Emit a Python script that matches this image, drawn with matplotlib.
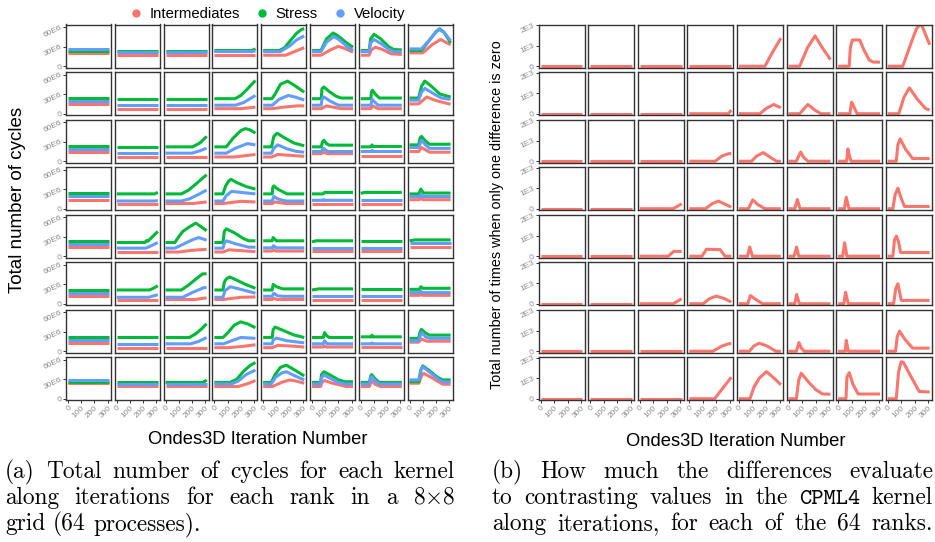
import matplotlib
matplotlib.use("Agg")
import matplotlib.pyplot as plt
from matplotlib.lines import Line2D

plt.rcParams["font.family"] = ["Liberation Sans", "DejaVu Sans"]
plt.rcParams["mathtext.fontset"] = "cm"

W, H = 935, 542

# ---------------------------------------------------------------------------
# Data: one breakpoint list (iteration, value) per rank, ranks row-major 8x8
# cycles in millions
# ---------------------------------------------------------------------------

INTERMEDIATES = [
    # row 1
    [(0, 20.5), (310, 20.5)],
    [(0, 16.8), (310, 16.8)],
    [(0, 16.8), (310, 16.8)],
    [(0, 16.8), (310, 16.8)],
    [(0, 16.8), (170, 16.8), (310, 28.5)],
    [(0, 16.8), (68, 16.8), (140, 25), (200, 30.5), (250, 27), (310, 21.5)],
    [(0, 16.8), (63, 16.8), (80, 25), (110, 29), (160, 26), (230, 19), (310, 18)],
    [(0, 20.5), (100, 20.5), (170, 33), (235, 41), (280, 36), (310, 33)],
    # row 2
    [(0, 15), (310, 15)],
    [(0, 7.7), (310, 7.7)],
    [(0, 7.7), (310, 7.7)],
    [(0, 7.7), (200, 7.7), (310, 10)],
    [(0, 7.7), (70, 7.7), (150, 10), (260, 12), (310, 12)],
    [(0, 7.7), (70, 7.7), (110, 12), (160, 10), (220, 7.7), (310, 7.7)],
    [(0, 7.7), (76, 7.7), (90, 12), (130, 7.7), (310, 7.7)],
    [(0, 15), (68, 15), (130, 25.6), (200, 20), (310, 14.5)],
    # row 3
    [(0, 13.8), (310, 13.8)],
    [(0, 6.4), (310, 6.4)],
    [(0, 6.4), (310, 6.4)],
    [(0, 6.4), (150, 6.4), (310, 10.3)],
    [(0, 6.4), (63, 6.4), (110, 10.3), (200, 9), (310, 7.4)],
    [(0, 11.5), (70, 11.5), (85, 13.5), (120, 11.5), (310, 11.5)],
    [(0, 7.4), (310, 7.4)],
    [(0, 14.8), (68, 14.8), (90, 21), (150, 13.8), (310, 13.8)],
    # row 4
    [(0, 13.8), (310, 13.8)],
    [(0, 7.9), (310, 7.9)],
    [(0, 7.9), (200, 7.9), (310, 10.3)],
    [(0, 7.9), (65, 7.9), (130, 9.5), (200, 11.3), (310, 10.3)],
    [(0, 7.9), (68, 7.9), (90, 10.3), (170, 7.9), (310, 7.9)],
    [(0, 7.9), (310, 7.9)],
    [(0, 7.9), (310, 7.9)],
    [(0, 13.8), (75, 13.8), (85, 17.7), (100, 13.8), (310, 13.8)],
    # row 5
    [(0, 13.8), (310, 13.8)],
    [(0, 6.4), (310, 6.4)],
    [(0, 6.4), (100, 6.4), (200, 9), (290, 10.3), (310, 10.3)],
    [(0, 6.4), (65, 6.4), (110, 9.8), (200, 8.5), (310, 7)],
    [(0, 7.9), (68, 7.9), (80, 9.8), (95, 7.9), (310, 7.9)],
    [(0, 7.4), (310, 7.4)],
    [(0, 7.4), (310, 7.4)],
    [(0, 13.8), (310, 13.8)],
    # row 6
    [(0, 11.3), (310, 11.3)],
    [(0, 6.4), (310, 6.4)],
    [(0, 6.4), (220, 6.4), (310, 8.9)],
    [(0, 6.4), (65, 6.4), (130, 8), (200, 9.8), (310, 10.3)],
    [(0, 6.4), (68, 6.4), (80, 8), (110, 6.4), (310, 6.4)],
    [(0, 6.4), (310, 6.4)],
    [(0, 6.4), (310, 6.4)],
    [(0, 12.8), (75, 12.8), (85, 14.8), (100, 12.8), (310, 12.8)],
    # row 7
    [(0, 12.8), (310, 12.8)],
    [(0, 5.4), (310, 5.4)],
    [(0, 5.4), (310, 5.4)],
    [(0, 5.4), (100, 5.4), (200, 7), (310, 9.8)],
    [(0, 5.4), (68, 5.4), (110, 8.9), (200, 8), (310, 6.4)],
    [(0, 6.4), (85, 6.4), (95, 8), (110, 6.4), (310, 6.4)],
    [(0, 6.4), (310, 6.4)],
    [(0, 13.8), (68, 13.8), (90, 18.7), (130, 15.3), (310, 15.3)],
    # row 8
    [(0, 23.7), (310, 23.7)],
    [(0, 18.7), (310, 18.7)],
    [(0, 18.7), (310, 18.7)],
    [(0, 18.7), (180, 18.7), (250, 23), (310, 27.8)],
    [(0, 18.7), (70, 18.7), (140, 25), (200, 28.8), (250, 27), (310, 23.7)],
    [(0, 18.7), (65, 18.7), (75, 25), (95, 27.8), (150, 24), (260, 18.7), (310, 18.7)],
    [(0, 18.7), (65, 18.7), (80, 27), (110, 22), (150, 18.7), (310, 18.7)],
    [(0, 23.7), (70, 23.7), (90, 35), (105, 39), (160, 33), (250, 22.2), (310, 22.2)],
]

STRESS = [
    # row 1
    [(0, 24), (310, 24)],
    [(0, 24), (310, 24)],
    [(0, 24), (310, 24)],
    [(0, 24), (280, 24), (300, 25.5), (310, 27)],
    [(0, 24), (120, 24), (160, 28), (200, 38), (250, 50), (290, 56.5), (310, 57.6)],
    [(0, 24), (68, 24), (110, 42), (160, 51), (200, 46), (260, 36), (310, 29)],
    [(0, 24), (63, 24), (75, 42), (100, 49), (150, 42), (210, 30), (250, 25.5), (310, 25)],
    [(0, 24), (90, 24), (150, 40), (200, 53), (227, 57.5), (260, 52), (310, 36)],
    # row 2
    [(0, 24), (310, 24)],
    [(0, 23), (310, 23)],
    [(0, 23), (310, 23)],
    [(0, 23), (156, 23), (200, 28), (250, 38), (310, 51)],
    [(0, 23), (66, 23), (90, 30), (130, 45), (184, 50), (240, 43), (310, 33)],
    [(0, 23), (70, 23), (75, 38), (90, 41), (130, 34), (180, 27), (220, 24), (310, 24)],
    [(0, 23), (76, 23), (80, 33), (88, 36), (110, 30), (140, 24), (310, 24)],
    [(0, 24), (68, 24), (90, 42), (115, 50), (160, 43), (230, 30), (310, 25.6)],
    # row 3
    [(0, 22.7), (310, 22.7)],
    [(0, 22), (310, 22)],
    [(0, 22), (204, 22), (260, 28), (310, 38)],
    [(0, 22), (90, 22), (140, 35), (200, 47), (235, 50), (270, 48), (310, 43)],
    [(0, 22), (63, 22), (80, 38), (105, 43), (160, 36), (230, 28), (310, 23.6)],
    [(0, 22), (70, 22), (80, 30), (90, 32), (110, 27), (130, 24.6), (310, 24.6)],
    [(0, 22), (80, 22), (85, 25), (92, 22.5), (310, 22.5)],
    [(0, 25), (68, 25), (80, 36), (90, 38), (120, 31), (150, 26), (310, 26)],
    # row 4
    [(0, 23.6), (310, 23.6)],
    [(0, 22.7), (285, 22.7), (310, 25)],
    [(0, 22.7), (119, 22.7), (170, 28), (230, 38), (280, 47), (310, 52)],
    [(0, 22.7), (65, 22.7), (85, 35), (110, 43), (126, 45), (170, 40), (240, 34), (310, 30)],
    [(0, 22.7), (68, 22.7), (72, 32), (80, 35), (110, 30), (180, 22.7), (310, 22.7)],
    [(0, 22.7), (85, 22.7), (95, 25), (310, 25)],
    [(0, 23.6), (30, 25), (310, 25)],
    [(0, 22.7), (70, 22.7), (85, 30), (105, 24), (310, 24)],
    # row 5
    [(0, 22.7), (310, 22.7)],
    [(0, 21), (211, 21), (225, 24), (235, 23), (270, 30), (310, 38)],
    [(0, 21), (70, 21), (100, 30), (130, 38), (180, 45), (228, 50.7), (270, 45), (310, 39)],
    [(0, 21), (65, 21), (75, 38), (90, 42), (150, 36), (220, 27), (260, 23.6), (310, 23.6)],
    [(0, 23.6), (68, 23.6), (75, 28.6), (100, 23.6), (310, 23.6)],
    [(0, 22), (30, 23.6), (310, 23.6)],
    [(0, 23.6), (310, 23.6)],
    [(0, 23.6), (40, 25), (310, 25)],
    # row 6
    [(0, 21), (310, 21)],
    [(0, 21), (247, 21), (280, 24), (310, 27.6)],
    [(0, 21), (119, 21), (170, 28), (230, 38), (280, 45.8), (310, 45.8)],
    [(0, 21), (65, 21), (75, 33), (90, 38), (115, 41), (160, 37), (230, 30), (310, 23.6)],
    [(0, 21), (68, 21), (75, 29.6), (100, 26), (150, 22.7), (310, 22.7)],
    [(0, 21), (50, 22.7), (310, 22.7)],
    [(0, 22), (310, 22)],
    [(0, 22), (75, 22), (85, 26), (100, 23.6), (310, 23.6)],
    # row 7
    [(0, 22), (310, 22)],
    [(0, 21), (310, 21)],
    [(0, 21), (180, 21), (230, 27), (270, 34), (310, 42)],
    [(0, 21), (65, 21), (100, 28), (150, 40), (199, 45), (250, 42), (310, 36)],
    [(0, 21), (68, 21), (75, 33), (90, 37), (150, 32), (230, 25), (310, 21)],
    [(0, 21), (85, 21), (95, 28.6), (110, 24), (130, 21), (310, 21)],
    [(0, 22), (80, 22), (85, 24.6), (90, 22), (310, 22)],
    [(0, 19.7), (68, 19.7), (80, 30), (90, 33.5), (120, 28), (150, 24.6), (310, 24.6)],
    # row 8
    [(0, 26), (310, 26)],
    [(0, 25), (310, 25)],
    [(0, 25), (280, 25), (300, 27), (310, 28.8)],
    [(0, 25), (119, 25), (170, 30), (220, 42), (270, 51), (310, 55.6)],
    [(0, 25), (61, 25), (90, 37), (130, 48), (174, 51.5), (230, 45), (310, 35)],
    [(0, 25), (65, 25), (72, 37), (90, 41.4), (140, 36), (200, 29), (250, 26), (310, 26)],
    [(0, 25), (65, 25), (75, 35), (82, 37), (110, 30), (140, 25), (310, 25)],
    [(0, 26), (70, 26), (85, 44), (100, 50.5), (150, 43), (210, 33), (250, 28.8), (310, 28.8)],
]

VELOCITY = [
    # row 1
    [(0, 26.5), (310, 26.5)],
    [(0, 22.5), (310, 22.5)],
    [(0, 22.5), (310, 22.5)],
    [(0, 22.5), (290, 22.5), (310, 23.5)],
    [(0, 22.5), (130, 22.5), (200, 31), (250, 40), (310, 46.5)],
    [(0, 22.5), (68, 22.5), (110, 37), (165, 45.5), (210, 40), (260, 31), (310, 24)],
    [(0, 22.5), (63, 22.5), (75, 36), (100, 41), (150, 35), (210, 26), (250, 22.5), (310, 22.5)],
    [(0, 26.5), (90, 26.5), (150, 40), (200, 52), (222, 56.5), (260, 52), (310, 39)],
    # row 2
    [(0, 20), (310, 20)],
    [(0, 13), (310, 13)],
    [(0, 13), (310, 13)],
    [(0, 13), (160, 13), (220, 17), (310, 28)],
    [(0, 13), (70, 13), (120, 22), (190, 28), (250, 25), (310, 21)],
    [(0, 13), (70, 13), (75, 22), (90, 25.6), (140, 19), (200, 13), (310, 13)],
    [(0, 13), (76, 13), (85, 22), (110, 17), (130, 13), (310, 13)],
    [(0, 20.8), (68, 20.8), (90, 33), (115, 39), (170, 32), (240, 24), (310, 22)],
    # row 3
    [(0, 18.7), (310, 18.7)],
    [(0, 12.3), (310, 12.3)],
    [(0, 12.3), (200, 12.3), (260, 16), (310, 20)],
    [(0, 12.3), (90, 12.3), (160, 20), (250, 27), (310, 25)],
    [(0, 12.3), (63, 12.3), (80, 20), (110, 25), (180, 19), (250, 15), (310, 13.8)],
    [(0, 14.8), (70, 14.8), (85, 19.7), (120, 14.8), (310, 14.8)],
    [(0, 14.8), (80, 14.8), (87, 16.5), (95, 14.8), (310, 14.8)],
    [(0, 21), (68, 21), (85, 30), (92, 32), (120, 25), (150, 19.7), (310, 19.7)],
    # row 4
    [(0, 18.7), (310, 18.7)],
    [(0, 11.8), (290, 11.8), (310, 12.5)],
    [(0, 11.8), (120, 11.8), (180, 15), (250, 22), (310, 28.6)],
    [(0, 11.8), (65, 11.8), (90, 20), (130, 26.6), (200, 25), (310, 22.7)],
    [(0, 11.8), (68, 11.8), (80, 18.7), (110, 15), (170, 11.8), (310, 11.8)],
    [(0, 12.8), (85, 12.8), (90, 14), (95, 12.8), (310, 12.8)],
    [(0, 12.8), (310, 12.8)],
    [(0, 18.7), (75, 18.7), (85, 21.7), (100, 18.7), (310, 18.7)],
    # row 5
    [(0, 18.7), (310, 18.7)],
    [(0, 12.3), (220, 12.3), (260, 16), (310, 21)],
    [(0, 12.3), (70, 12.3), (130, 18), (200, 25), (250, 28.6), (310, 24.6)],
    [(0, 12.3), (65, 12.3), (75, 20), (90, 23.6), (160, 19), (260, 13.8), (310, 13.8)],
    [(0, 12.8), (68, 12.8), (78, 16), (100, 12.8), (310, 12.8)],
    [(0, 12.8), (310, 12.8)],
    [(0, 12.8), (310, 12.8)],
    [(0, 19.7), (310, 19.7)],
    # row 6
    [(0, 16), (310, 16)],
    [(0, 9.8), (240, 9.8), (310, 13.8)],
    [(0, 9.8), (130, 9.8), (200, 17), (290, 24.6), (310, 24.6)],
    [(0, 9.8), (65, 9.8), (80, 20), (120, 26), (200, 22), (310, 16)],
    [(0, 11.3), (68, 11.3), (80, 16), (110, 12), (150, 11.3), (310, 11.3)],
    [(0, 11.3), (310, 11.3)],
    [(0, 11.3), (310, 11.3)],
    [(0, 17), (75, 17), (85, 19), (100, 17), (310, 17)],
    # row 7
    [(0, 17.7), (310, 17.7)],
    [(0, 11.3), (310, 11.3)],
    [(0, 11.3), (190, 11.3), (250, 15), (310, 21)],
    [(0, 11.3), (70, 11.3), (130, 16), (200, 21), (310, 19.7)],
    [(0, 11.3), (68, 11.3), (75, 17), (100, 20), (180, 16), (310, 12.8)],
    [(0, 11.3), (85, 11.3), (95, 16), (110, 12), (130, 11.3), (310, 11.3)],
    [(0, 11.3), (80, 11.3), (85, 12.5), (90, 11.3), (310, 11.3)],
    [(0, 16), (68, 16), (85, 26), (92, 28.6), (120, 22), (150, 19.7), (310, 19.7)],
    # row 8
    [(0, 28.8), (310, 28.8)],
    [(0, 22.7), (310, 22.7)],
    [(0, 22.7), (310, 22.7)],
    [(0, 22.7), (130, 22.7), (180, 27), (240, 37), (310, 44)],
    [(0, 22.7), (61, 22.7), (95, 33), (140, 39.5), (174, 41.4), (240, 35), (310, 28.8)],
    [(0, 22.7), (65, 22.7), (72, 32), (90, 36.4), (140, 31), (200, 25), (250, 22.7), (310, 22.7)],
    [(0, 22.7), (65, 22.7), (75, 32), (82, 34), (110, 27), (140, 22.7), (310, 22.7)],
    [(0, 28.8), (70, 28.8), (85, 44), (100, 49), (150, 41), (210, 31), (250, 26), (310, 26)],
]

# CPML4: number of times only one difference is zero
CPML4_ZERO = [
    # row 1
    [(0, 0), (310, 0)],
    [(0, 0), (310, 0)],
    [(0, 0), (310, 0)],
    [(0, 0), (310, 0)],
    [(0, 0), (192, 0), (250, 700), (310, 1370)],
    [(0, 0), (82, 0), (140, 900), (196, 1480), (250, 900), (310, 320)],
    [(0, 0), (82, 0), (90, 900), (105, 1280), (160, 1280), (190, 800), (230, 300), (260, 200), (310, 200)],
    [(0, 0), (111, 0), (160, 900), (210, 1800), (245, 2100), (310, 1050)],
    # row 2
    [(0, 0), (310, 0)],
    [(0, 0), (310, 0)],
    [(0, 0), (310, 0)],
    [(0, 0), (289, 0), (310, 180)],
    [(0, 0), (155, 0), (200, 250), (257, 450), (310, 290)],
    [(0, 0), (82, 0), (143, 450), (200, 150), (240, 0), (310, 0)],
    [(0, 0), (87, 0), (93, 300), (100, 560), (115, 350), (140, 0), (310, 0)],
    [(0, 0), (82, 0), (120, 800), (160, 1260), (220, 700), (280, 250), (310, 180)],
    # row 3
    [(0, 0), (310, 0)],
    [(0, 0), (310, 0)],
    [(0, 0), (310, 0)],
    [(0, 0), (192, 0), (240, 250), (290, 370), (310, 370)],
    [(0, 0), (94, 0), (130, 250), (180, 420), (230, 200), (277, 0), (310, 0)],
    [(0, 0), (58, 0), (75, 250), (90, 450), (110, 200), (143, 0), (310, 0)],
    [(0, 0), (63, 0), (72, 600), (85, 250), (95, 0), (310, 0)],
    [(0, 0), (63, 0), (75, 800), (92, 1090), (130, 600), (184, 130), (310, 130)],
    # row 4
    [(0, 0), (310, 0)],
    [(0, 0), (310, 0)],
    [(0, 0), (247, 0), (310, 240)],
    [(0, 0), (119, 0), (170, 250), (216, 370), (270, 200), (310, 80)],
    [(0, 0), (70, 0), (102, 435), (140, 200), (192, 0), (310, 0)],
    [(0, 0), (46, 0), (65, 450), (85, 0), (310, 0)],
    [(0, 0), (46, 0), (60, 560), (80, 0), (310, 0)],
    [(0, 0), (38, 0), (55, 700), (75, 1000), (100, 500), (124, 110), (310, 110)],
    # row 5
    [(0, 0), (310, 0)],
    [(0, 0), (310, 0)],
    [(0, 0), (211, 0), (252, 240), (310, 230)],
    [(0, 0), (94, 0), (126, 340), (228, 320), (264, 0), (310, 0)],
    [(0, 0), (63, 0), (80, 450), (100, 0), (310, 0)],
    [(0, 0), (41, 0), (60, 450), (75, 0), (310, 0)],
    [(0, 0), (34, 0), (48, 660), (65, 0), (310, 0)],
    [(0, 0), (38, 0), (50, 800), (65, 980), (80, 700), (95, 180), (310, 180)],
    # row 6
    [(0, 0), (310, 0)],
    [(0, 0), (310, 0)],
    [(0, 0), (247, 0), (310, 240)],
    [(0, 0), (102, 0), (150, 250), (199, 370), (260, 250), (310, 80)],
    [(0, 0), (65, 0), (85, 400), (130, 180), (175, 0), (310, 0)],
    [(0, 0), (46, 0), (60, 450), (80, 0), (310, 0)],
    [(0, 0), (42, 0), (55, 560), (75, 0), (310, 0)],
    [(0, 0), (43, 0), (60, 750), (75, 970), (90, 500), (100, 160), (310, 160)],
    # row 7
    [(0, 0), (310, 0)],
    [(0, 0), (310, 0)],
    [(0, 0), (310, 0)],
    [(0, 0), (175, 0), (240, 250), (295, 370), (310, 370)],
    [(0, 0), (77, 0), (110, 250), (150, 390), (210, 250), (272, 0), (310, 0)],
    [(0, 0), (58, 0), (77, 420), (95, 150), (115, 0), (310, 0)],
    [(0, 0), (53, 0), (60, 530), (75, 0), (310, 0)],
    [(0, 0), (58, 0), (70, 700), (87, 980), (130, 550), (184, 150), (310, 150)],
    # row 8
    [(0, 0), (310, 0)],
    [(0, 0), (310, 0)],
    [(0, 0), (310, 0)],
    [(0, 0), (187, 0), (240, 450), (310, 1050)],
    [(0, 0), (82, 0), (110, 550), (150, 1000), (204, 1320), (260, 1000), (310, 680)],
    [(0, 0), (58, 0), (75, 900), (94, 1240), (150, 800), (200, 450), (252, 230), (310, 220)],
    [(0, 0), (58, 0), (65, 1050), (82, 1270), (110, 700), (148, 230), (310, 230)],
    [(0, 0), (63, 0), (80, 1300), (99, 1800), (115, 1780), (170, 1100), (233, 350), (310, 330)],
]

KERNELS = ["Intermediates", "Stress", "Velocity"]
KERNEL_COLORS = {"Intermediates": "#F8766D", "Stress": "#00BA38", "Velocity": "#619CFF"}

X_TICKS = [0, 100, 200, 300]
CYCLE_TICKS = [0, 30e6, 60e6]
CYCLE_TICK_LABELS = ["0", "30E6", "60E6"]
ZERO_TICKS = [0, 1000, 2000]
ZERO_TICK_LABELS = ["0", "1E3", "2E3"]

CAPTION_A = [
    "(a) Total number of cycles for each kernel",
    "along iterations for each rank in a 8$\\times$8",
    "grid (64 processes).",
]
CAPTION_B = [
    "(b) How much the differences evaluate",
    "to contrasting values in the CPML4 kernel",
    "along iterations, for each of the 64 ranks.",
]

BORDER = "#333333"
TICK_TEXT = "#8c8c8c"
CAPTION_SIZE = 16.8

fig = plt.figure(figsize=(W / 100, H / 100), dpi=100)
fig.patch.set_facecolor("white")


def px_axes(x0, y0, w, h):
    return fig.add_axes([x0 / W, 1 - (y0 + h) / H, w / W, h / H])


def style_panel(ax, row, col, yticks, ylabels, ylim):
    ax.set_xlim(-15, 325)
    ax.set_ylim(*ylim)
    for s in ax.spines.values():
        s.set_color(BORDER)
        s.set_linewidth(1.0)
    ax.set_facecolor("white")
    ax.tick_params(length=2, width=0.7, color=BORDER, labelcolor=TICK_TEXT,
                   labelsize=6, pad=1)
    if col == 0:
        ax.set_yticks(yticks)
        ax.set_yticklabels(ylabels, rotation=25, ha="right", va="center",
                           rotation_mode="anchor")
    else:
        ax.set_yticks([])
    if row == 7:
        ax.set_xticks(X_TICKS)
        ax.set_xticklabels([str(t) for t in X_TICKS], rotation=45, ha="right",
                           va="top", rotation_mode="anchor")
    else:
        ax.set_xticks([])


def draw_line(ax, pts, color, scale=1.0):
    xs = [p[0] for p in pts]
    ys = [p[1] * scale for p in pts]
    ax.plot(xs, ys, color=color, lw=2.2, solid_joinstyle="round",
            solid_capstyle="butt")


ROW_TOP, ROW_PITCH, ROW_H = 24.5, 47.5, 43.3

# --- left grid: cycles per kernel ---
for i in range(64):
    r, c = divmod(i, 8)
    ax = px_axes(66 + c * 48.8, ROW_TOP + r * ROW_PITCH, 45, ROW_H)
    for name, series in zip(KERNELS, [INTERMEDIATES, STRESS, VELOCITY]):
        draw_line(ax, series[i], KERNEL_COLORS[name], scale=1e6)
    style_panel(ax, r, c, CYCLE_TICKS, CYCLE_TICK_LABELS, (-2.5e6, 64e6))

# --- right grid: CPML4 zero counts ---
for i in range(64):
    r, c = divmod(i, 8)
    ax = px_axes(538.5 + c * 49.6, ROW_TOP + r * ROW_PITCH, 46, ROW_H)
    draw_line(ax, CPML4_ZERO[i], "#F8766D")
    style_panel(ax, r, c, ZERO_TICKS, ZERO_TICK_LABELS, (-77, 2034))

# axis titles
fig.text(18 / W, 1 - 200 / H, "Total number of cycles", rotation=90,
         ha="center", va="center", fontsize=13.5)
fig.text(258 / W, 1 - 440 / H, "Ondes3D Iteration Number",
         ha="center", va="center", fontsize=13.2)
fig.text(497 / W, 1 - 215 / H,
         "Total number of times when only one difference is zero",
         rotation=90, ha="center", va="center", fontsize=10.4)
fig.text(736 / W, 1 - 441 / H, "Ondes3D Iteration Number",
         ha="center", va="center", fontsize=13.2)

# legend
handles = [Line2D([], [], marker="o", ls="", color=KERNEL_COLORS[k], markersize=5)
           for k in KERNELS]
fig.legend(handles, KERNELS, loc="center", bbox_to_anchor=(267 / W, 1 - 14 / H),
           ncol=3, frameon=False, fontsize=10.7, handletextpad=0.4,
           columnspacing=1.0, handlelength=1.0, borderaxespad=0)

# captions, justified like the typeset text
renderer = fig.canvas.get_renderer()


def caption_line(text, x0, x1, baseline, justify):
    items = []
    for w in text.split(" "):
        fam = "cmtt10" if w == "CPML4" else "cmr10"
        items.append(fig.text(0, 1 - baseline / H, w, family=fam,
                              fontsize=CAPTION_SIZE, va="baseline", ha="left"))
    widths = [t.get_window_extent(renderer).width for t in items]
    if justify:
        gap = ((x1 - x0) - sum(widths)) / (len(items) - 1)
    else:
        gap = CAPTION_SIZE * 100 / 72 * 0.333
    x = x0
    for t, w in zip(items, widths):
        t.set_x(x / W)
        x += w + gap


BASELINES = [478, 504, 530]
for k, line in enumerate(CAPTION_A):
    caption_line(line, 5, 455, BASELINES[k], justify=(k < 2))
for k, line in enumerate(CAPTION_B):
    caption_line(line, 492, 933, BASELINES[k], justify=True)

fig.savefig("out.png", dpi=100)
